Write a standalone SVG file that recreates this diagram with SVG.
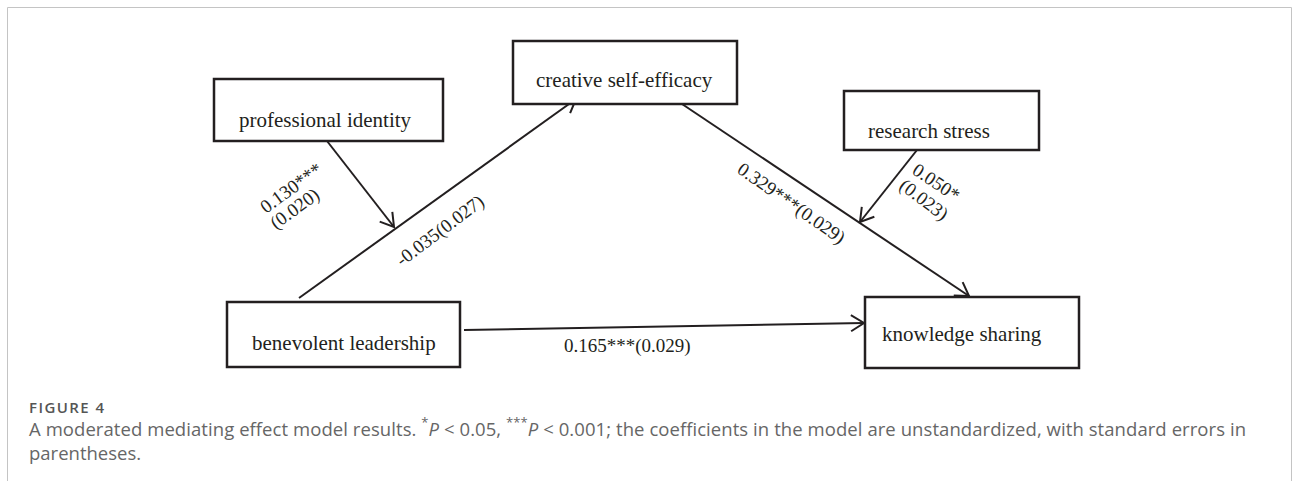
<svg xmlns="http://www.w3.org/2000/svg" width="1293" height="481" viewBox="0 0 1293 481">
  <style>
    .box { fill: #ffffff; stroke: #231f20; stroke-width: 2.5; }
    .lbl { font-family: "Liberation Serif", "Times New Roman", serif; font-size: 21px; fill: #231f20; }
    .elbl { font-family: "Liberation Serif", "Times New Roman", serif; font-size: 19px; fill: #231f20; }
    .edge { fill: none; stroke: #231f20; stroke-width: 2; marker-end: url(#arrow); }
    .cap { font-family: "Open Sans", "Noto Sans", sans-serif; font-size: 18.5px; fill: #666666; }
    .fig { font-family: "Open Sans", "Noto Sans", sans-serif; font-size: 15px; font-weight: 600; fill: #555555; }
  </style>
  <defs>
    <marker id="arrow" markerUnits="userSpaceOnUse" markerWidth="30" markerHeight="30" viewBox="-20 -15 30 30" refX="0" refY="0" orient="auto" overflow="visible">
      <path d="M-13,-8 L0,0 L-13,8" fill="none" stroke="#231f20" stroke-width="2"/>
    </marker>
  </defs>
  <rect width="1293" height="481" fill="#ffffff"/>
  <path d="M7.5,490 V7.5 H1291.5 V490" fill="none" stroke="#c4c4c4" stroke-width="1"/>

  <g id="connectors">
    <line class="edge" x1="299" y1="298" x2="576" y2="99"/>
    <line class="edge" x1="682" y1="104" x2="969" y2="296"/>
    <line class="edge" x1="327" y1="141" x2="394" y2="227"/>
    <line class="edge" x1="917" y1="150" x2="860" y2="222"/>
    <line class="edge" x1="464" y1="330" x2="864" y2="323" stroke-width="2.5"/>
  </g>

  <g id="edge-labels">
    <text class="elbl" transform="translate(266,214) rotate(-36)">0.130***</text>
    <text class="elbl" transform="translate(276,230) rotate(-36)">(0.020)</text>
    <text class="elbl" transform="translate(402,267) rotate(-37)">-0.035(0.027)</text>
    <text class="elbl" transform="translate(736,172) rotate(35)">0.329***(0.029)</text>
    <text class="elbl" transform="translate(911,173) rotate(34)">0.050*</text>
    <text class="elbl" transform="translate(898,188) rotate(37)">(0.023)</text>
    <text class="elbl" x="564" y="352">0.165***(0.029)</text>
  </g>

  <g id="node-creative">
    <rect class="box" x="513" y="41" width="224" height="63"/>
    <text class="lbl" x="536" y="87">creative self-efficacy</text>
  </g>
  <g id="node-professional">
    <rect class="box" x="214" y="79" width="229" height="62"/>
    <text class="lbl" x="239" y="127">professional identity</text>
  </g>
  <g id="node-research">
    <rect class="box" x="844" y="91" width="195" height="59"/>
    <text class="lbl" x="868" y="138">research stress</text>
  </g>
  <g id="node-benevolent">
    <rect class="box" x="227" y="302" width="233" height="65"/>
    <text class="lbl" x="252" y="350">benevolent leadership</text>
  </g>
  <g id="node-knowledge">
    <rect class="box" x="865" y="297" width="214" height="71"/>
    <text class="lbl" x="882" y="341">knowledge sharing</text>
  </g>

  <g id="caption">
    <text class="fig" x="29" y="413" textLength="75" lengthAdjust="spacing">FIGURE 4</text>
    <text class="cap" x="29" y="436" textLength="1217" lengthAdjust="spacing">A moderated mediating effect model results. <tspan baseline-shift="super" font-size="13px">*</tspan><tspan font-style="italic">P</tspan> &lt; 0.05, <tspan baseline-shift="super" font-size="13px">***</tspan><tspan font-style="italic">P</tspan> &lt; 0.001; the coefficients in the model are unstandardized, with standard errors in</text>
    <text class="cap" x="29" y="460">parentheses.</text>
  </g>
</svg>
